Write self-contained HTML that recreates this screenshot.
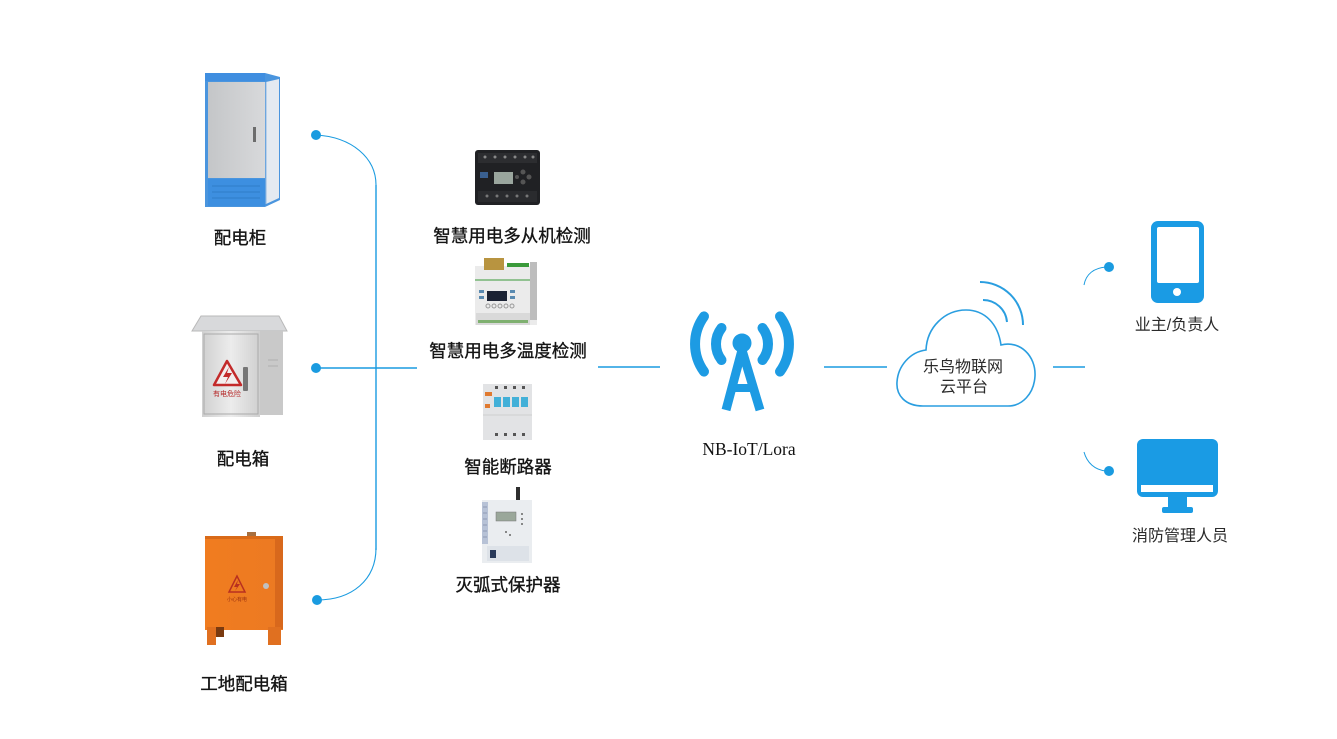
<!DOCTYPE html>
<html><head><meta charset="utf-8">
<style>
html,body{margin:0;padding:0;background:#fff;}
body{width:1337px;height:739px;overflow:hidden;position:relative;}
svg{position:absolute;left:0;top:0;}
.l{font-family:"Liberation Sans","Noto Sans CJK SC",sans-serif;font-size:17.5px;fill:#151515;stroke:#151515;stroke-width:0.35px;}
.r{font-family:"Liberation Sans","Noto Sans CJK SC",sans-serif;font-size:16px;fill:#2a2a2a;}
.s{font-family:"Liberation Serif",serif;font-size:17.5px;fill:#111;}
</style></head>
<body>
<svg width="1337" height="739" viewBox="0 0 1337 739" xmlns="http://www.w3.org/2000/svg">
<defs>
<linearGradient id="door" x1="0" y1="0" x2="1" y2="0"><stop offset="0" stop-color="#c4c6c8"/><stop offset="1" stop-color="#d8d9db"/></linearGradient>
<linearGradient id="steel" x1="0" y1="0" x2="1" y2="0"><stop offset="0" stop-color="#d0d0d0"/><stop offset="0.5" stop-color="#ececec"/><stop offset="1" stop-color="#cfcfcf"/></linearGradient>
<linearGradient id="orange" x1="0" y1="0" x2="1" y2="0"><stop offset="0" stop-color="#f07c20"/><stop offset="1" stop-color="#ec7a22"/></linearGradient>
</defs>

<!-- left connectors -->
<g stroke="#1a9be0" fill="none">
<path d="M316,135 C352,137 376,158 376,185" stroke-width="1.1"/>
<line x1="376" y1="185" x2="376" y2="550" stroke-width="1.4"/>
<path d="M376,548 C376,580 352,600 317,600" stroke-width="1.1"/>
<line x1="316" y1="368" x2="417" y2="368" stroke-width="1.4"/>
<line x1="598" y1="367" x2="660" y2="367" stroke-width="1.4"/>
<line x1="824" y1="367" x2="887" y2="367" stroke-width="1.4"/>
<line x1="1053" y1="367" x2="1085" y2="367" stroke-width="1.4"/>
<path d="M1084,285 C1086,274 1094,268 1106,267" stroke-width="1"/>
<path d="M1084,452 C1087,463 1095,470 1106,471" stroke-width="1"/>
</g>
<g fill="#1a9be0">
<circle cx="316" cy="135" r="5"/>
<circle cx="316" cy="368" r="5"/>
<circle cx="317" cy="600" r="5"/>
<circle cx="1109" cy="267" r="5"/>
<circle cx="1109" cy="471" r="5"/>
</g>

<!-- cabinet 1 -->
<g>
<polygon points="205,76 265,73 280,77 280,200 265,207 205,207" fill="#4a95de"/>
<rect x="208" y="82" width="57" height="96" fill="url(#door)"/>
<polygon points="266,82 279,79 279,198 266,204" fill="#e4eaf1"/>
<line x1="266" y1="82" x2="266" y2="204" stroke="#8fb6e0" stroke-width="1"/>
<rect x="208" y="179" width="57" height="27" fill="#3d8fe0"/>
<g stroke="#2f7cc8" stroke-width="1">
<line x1="212" y1="186" x2="260" y2="186"/><line x1="212" y1="192" x2="260" y2="192"/><line x1="212" y1="198" x2="260" y2="198"/>
</g>
<rect x="253" y="127" width="3" height="15" fill="#6c6c6c"/>
<rect x="205" y="73" width="60" height="8" fill="#3f8ee0"/>
</g>

<!-- cabinet 2 -->
<g>
<polygon points="192,331 201,316 279,316 287,331" fill="#d8d9db" stroke="#b9b9b9" stroke-width="1"/>
<rect x="202" y="331" width="58" height="86" fill="url(#steel)"/>
<rect x="260" y="331" width="23" height="84" fill="#c9c9c9"/>
<rect x="204" y="334" width="54" height="80" fill="none" stroke="#aaaaaa" stroke-width="1"/>
<polygon points="227,361 214,385 241,385" fill="#f3eeee" stroke="#c32a2a" stroke-width="2.5" stroke-linejoin="round"/>
<path d="M229,367 L223,377 L228,377 L225,384 L232,373 L227,373 Z" fill="#c32a2a"/>
<text x="227" y="396" font-family="Liberation Sans,Noto Sans CJK SC,sans-serif" font-size="7" fill="#b52828" text-anchor="middle">有电危险</text>
<rect x="243" y="367" width="5" height="24" rx="1" fill="#767676"/>
<line x1="268" y1="360" x2="278" y2="360" stroke="#b0b0b0"/><line x1="268" y1="366" x2="278" y2="366" stroke="#b0b0b0"/>
</g>

<!-- cabinet 3 -->
<g>
<rect x="247" y="532" width="9" height="5" fill="#a87040"/>
<rect x="205" y="536" width="78" height="94" fill="url(#orange)"/>
<rect x="205" y="536" width="78" height="3" fill="#d96a18"/>
<rect x="275" y="539" width="8" height="90" fill="#d8681c"/>
<rect x="207" y="627" width="9" height="18" fill="#e07020"/>
<rect x="216" y="627" width="8" height="10" fill="#7a3a10"/>
<rect x="268" y="627" width="13" height="18" fill="#e07020"/>
<polygon points="237,576 229,592 245,592" fill="none" stroke="#b83020" stroke-width="1.5"/>
<path d="M238,580 L234,587 L237,587 L235,591 L240,584 L237,584 Z" fill="#b83020"/>
<text x="237" y="601" font-family="Liberation Sans,Noto Sans CJK SC,sans-serif" font-size="5" fill="#9a3010" text-anchor="middle">小心有电</text>
<circle cx="266" cy="586" r="3" fill="#c0c0c0"/>
</g>

<!-- device 1 black -->
<g>
<rect x="475" y="150" width="65" height="55" rx="3" fill="#202124"/>
<rect x="478" y="153" width="59" height="10" fill="#2c2d30"/>
<g fill="#888"><circle cx="485" cy="157" r="1.5"/><circle cx="495" cy="157" r="1.5"/><circle cx="505" cy="157" r="1.5"/><circle cx="515" cy="157" r="1.5"/><circle cx="525" cy="157" r="1.5"/><circle cx="533" cy="157" r="1.5"/></g>
<rect x="494" y="172" width="19" height="12" fill="#9aa69e"/>
<g fill="#555"><circle cx="523" cy="172" r="2.5"/><circle cx="529" cy="177" r="2.5"/><circle cx="523" cy="182" r="2.5"/><circle cx="517" cy="177" r="2"/></g>
<rect x="480" y="172" width="8" height="6" fill="#3a6090"/>
<rect x="478" y="191" width="59" height="11" fill="#2a2b2e"/>
<g fill="#777"><circle cx="487" cy="196" r="1.5"/><circle cx="497" cy="196" r="1.5"/><circle cx="507" cy="196" r="1.5"/><circle cx="517" cy="196" r="1.5"/><circle cx="527" cy="196" r="1.5"/></g>
</g>

<!-- device 2 din -->
<g>
<rect x="475" y="266" width="62" height="59" fill="#ebebeb"/>
<rect x="530" y="262" width="7" height="58" fill="#bdbdbd"/>
<rect x="484" y="258" width="20" height="12" fill="#b89440"/>
<rect x="507" y="263" width="22" height="4" fill="#3a9a3a"/>
<line x1="475" y1="280" x2="530" y2="280" stroke="#3a9a3a" stroke-width="1"/>
<rect x="487" y="291" width="20" height="10" fill="#1b2233"/>
<g fill="#5a8ab0"><rect x="479" y="290" width="5" height="3"/><rect x="479" y="296" width="5" height="3"/><rect x="510" y="290" width="5" height="3"/><rect x="510" y="296" width="5" height="3"/></g>
<g fill="none" stroke="#999"><circle cx="488" cy="306" r="2"/><circle cx="494" cy="306" r="2"/><circle cx="500" cy="306" r="2"/><circle cx="506" cy="306" r="2"/><circle cx="512" cy="306" r="2"/></g>
<rect x="476" y="313" width="54" height="12" fill="#d9d9d9"/>
<rect x="478" y="320" width="50" height="3" fill="#7fb070"/>
</g>

<!-- device 3 breaker -->
<g>
<rect x="483" y="384" width="49" height="56" fill="#e2e3e5"/>
<g fill="#555"><rect x="495" y="386" width="3" height="3"/><rect x="504" y="386" width="3" height="3"/><rect x="513" y="386" width="3" height="3"/><rect x="522" y="386" width="3" height="3"/></g>
<rect x="485" y="392" width="7" height="4" fill="#e07a30"/>
<rect x="485" y="404" width="5" height="4" fill="#e07a30"/>
<g fill="#42b0d8"><rect x="494" y="397" width="7" height="10"/><rect x="503" y="397" width="7" height="10"/><rect x="512" y="397" width="7" height="10"/><rect x="521" y="397" width="7" height="10"/></g>
<line x1="483" y1="415" x2="532" y2="415" stroke="#cfcfcf"/>
<g fill="#555"><rect x="495" y="433" width="3" height="3"/><rect x="504" y="433" width="3" height="3"/><rect x="513" y="433" width="3" height="3"/><rect x="522" y="433" width="3" height="3"/></g>
</g>

<!-- device 4 -->
<g>
<rect x="516" y="487" width="4" height="16" fill="#2e2e2e"/>
<rect x="482" y="500" width="50" height="63" fill="#eaedf0"/>
<rect x="482" y="502" width="6" height="42" fill="#b7c2d6"/>
<g stroke="#8f9bb4"><line x1="483" y1="507" x2="487" y2="507"/><line x1="483" y1="513" x2="487" y2="513"/><line x1="483" y1="519" x2="487" y2="519"/><line x1="483" y1="525" x2="487" y2="525"/><line x1="483" y1="531" x2="487" y2="531"/><line x1="483" y1="537" x2="487" y2="537"/></g>
<rect x="496" y="512" width="20" height="9" fill="#9aa79a" stroke="#777" stroke-width="0.5"/>
<g fill="#666"><circle cx="522" cy="514" r="1"/><circle cx="522" cy="519" r="1"/><circle cx="522" cy="524" r="1"/><circle cx="506" cy="532" r="1"/><circle cx="510" cy="535" r="1"/></g>
<rect x="487" y="546" width="42" height="15" fill="#dde2e8"/>
<rect x="490" y="550" width="6" height="8" fill="#2a3a5a"/>
</g>

<!-- tower -->
<g stroke="#1d9be3" fill="none" stroke-width="10" stroke-linecap="round">
<path d="M721.5,328 A26,26 0 0 0 721.5,360"/>
<path d="M704,316.4 A47,47 0 0 0 704,371.6"/>
<path d="M762.5,328 A26,26 0 0 1 762.5,360"/>
<path d="M780,316.4 A47,47 0 0 1 780,371.6"/>
<path d="M742,350 L726,410 M742,350 L760,410" stroke-linecap="butt" stroke-width="9"/>
<line x1="733" y1="388" x2="752" y2="388" stroke-width="8" stroke-linecap="butt"/>
</g>
<circle cx="742" cy="343" r="9.5" fill="#1d9be3"/>

<!-- cloud -->
<path d="M923,406 C905,406 896,395 897,382 C898,366 910,352 926,350 C927,327 945,310 966,310 C985,310 998,324 1001,345 C1020,340 1036,356 1035,376 C1034,394 1022,406 1008,406 Z" fill="#fff" stroke="#2a9ee0" stroke-width="1.6"/>
<path d="M980,282 A43,43 0 0 1 1023,325" fill="none" stroke="#2a9ee0" stroke-width="2"/>
<path d="M983,300 A24,24 0 0 1 1007,322" fill="none" stroke="#2a9ee0" stroke-width="2"/>

<!-- phone -->
<rect x="1151" y="221" width="53" height="82" rx="7" fill="#1a9be4"/>
<rect x="1157" y="227" width="42" height="56" rx="2" fill="#fff"/>
<circle cx="1177" cy="292" r="4" fill="#fff"/>

<!-- monitor -->
<rect x="1137" y="439" width="81" height="58" rx="6" fill="#1a9be4"/>
<rect x="1141" y="485" width="72" height="7" fill="#fff"/>
<rect x="1168" y="497" width="19" height="11" fill="#1a9be4"/>
<rect x="1162" y="507" width="31" height="6" rx="2" fill="#1a9be4"/>

<!-- labels -->
<text class="l" x="240" y="244" text-anchor="middle">配电柜</text>
<text class="l" x="243" y="465" text-anchor="middle">配电箱</text>
<text class="l" x="244" y="690" text-anchor="middle">工地配电箱</text>
<text class="l" x="512" y="242" text-anchor="middle">智慧用电多从机检测</text>
<text class="l" x="508" y="357" text-anchor="middle">智慧用电多温度检测</text>
<text class="l" x="508" y="473" text-anchor="middle">智能断路器</text>
<text class="l" x="508" y="591" text-anchor="middle">灭弧式保护器</text>
<text class="s" x="749" y="455" text-anchor="middle">NB-IoT/Lora</text>
<text class="r" x="963" y="372" text-anchor="middle">乐鸟物联网</text>
<text class="r" x="964" y="392" text-anchor="middle">云平台</text>
<text class="r" x="1177" y="330" text-anchor="middle">业主/负责人</text>
<text class="r" x="1180" y="541" text-anchor="middle">消防管理人员</text>
</svg>
</body></html>
